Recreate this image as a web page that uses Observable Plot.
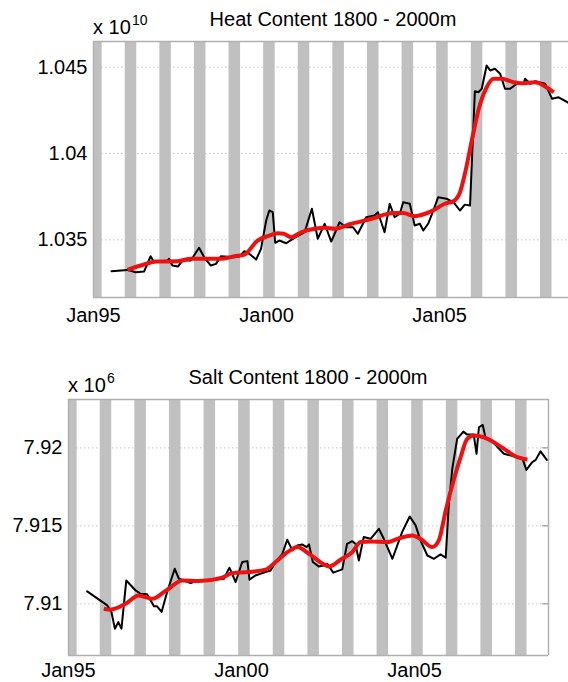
<!DOCTYPE html>
<html><head><meta charset="utf-8">
<script src="https://cdn.jsdelivr.net/npm/d3@7"></script>
<script src="https://cdn.jsdelivr.net/npm/@observablehq/plot@0.6"></script>
<style>
html,body{margin:0;padding:0;background:#fff;overflow:hidden;width:568px;height:682px;}
#wrap{position:relative;width:568px;height:682px;overflow:hidden;background:#fff;}
#wrap svg{position:absolute;left:0;}
</style></head><body><div id="wrap"></div>
<script>
// ---- data ----
const winterYears = [1995,1996,1997,1998,1999,2000,2001,2002,2003,2004,2005,2006,2007,2008];
const xDomain = [1995, 2008.87];
const xTicks = [1995, 2000, 2005];
const xTickLabels = ["Jan95", "Jan00", "Jan05"];

const heatTicks = [1.035, 1.04, 1.045];
const heatTickLabels = ["1.035", "1.04", "1.045"];
const heatDomain = [1.03166, 1.04649];

const saltTicks = [7.91, 7.915, 7.92];
const saltTickLabels = ["7.91", "7.915", "7.92"];
const saltDomain = [7.90669, 7.9231];

// Heat content (x 10^10), raw series
const heatT = [1995.52,1995.98,1996.22,1996.46,1996.65,1996.75,1997.14,1997.18,1997.28,1997.44,1997.57,1997.81,1998.05,1998.20,1998.39,1998.54,1998.68,1999.07,1999.21,1999.36,1999.50,1999.70,1999.84,1999.99,2000.08,2000.18,2000.25,2000.37,2000.57,2000.76,2001.10,2001.31,2001.48,2001.68,2001.87,2002.11,2002.30,2002.50,2002.64,2002.88,2003.12,2003.22,2003.41,2003.56,2003.70,2003.85,2003.95,2004.14,2004.28,2004.43,2004.53,2004.67,2004.82,2004.96,2005.20,2005.40,2005.59,2005.73,2005.88,2006.02,2006.12,2006.22,2006.36,2006.46,2006.60,2006.75,2006.89,2007.04,2007.23,2007.43,2007.47,2007.62,2007.76,2008.05,2008.25,2008.44,2008.78,2008.87];
const heatV = [1.03318,1.03326,1.03312,1.03316,1.03405,1.03370,1.03380,1.03390,1.03351,1.03345,1.03380,1.03380,1.03454,1.03399,1.03351,1.03361,1.03405,1.03399,1.03403,1.03434,1.03419,1.03386,1.03448,1.03612,1.03670,1.03660,1.03483,1.03496,1.03480,1.03506,1.03544,1.03680,1.03506,1.03593,1.03490,1.03602,1.03573,1.03573,1.03535,1.03631,1.03641,1.03660,1.03544,1.03709,1.03631,1.03651,1.03718,1.03709,1.03583,1.03593,1.03554,1.03593,1.03670,1.03747,1.03738,1.03718,1.03670,1.03704,1.03699,1.04361,1.04355,1.04375,1.04510,1.04481,1.04491,1.04462,1.04375,1.04375,1.04404,1.04407,1.04433,1.04404,1.04419,1.04404,1.04317,1.04326,1.04288,1.04280];
// Heat content, smoothed series
const heatSmoothT = [1995.98,1996.46,1996.80,1997.43,1997.81,1998.39,1998.68,1999.07,1999.36,1999.74,2000.03,2000.32,2000.50,2000.71,2001.00,2001.39,2001.68,2001.97,2002.45,2003.03,2003.66,2003.95,2004.28,2004.77,2005.15,2005.40,2005.59,2005.73,2005.93,2006.12,2006.36,2006.56,2006.80,2007.14,2007.38,2007.76,2008.05,2008.30];
const heatSmoothV = [1.03326,1.03357,1.03374,1.03376,1.03390,1.03390,1.03390,1.03405,1.03415,1.03496,1.03521,1.03538,1.03535,1.03515,1.03544,1.03564,1.03570,1.03564,1.03593,1.03622,1.03656,1.03656,1.03637,1.03666,1.03709,1.03724,1.03776,1.03882,1.04075,1.04249,1.04384,1.04433,1.04433,1.04413,1.04407,1.04413,1.04388,1.04355];

// Salt content (x 10^6), raw series
const saltT = [1995.54,1996.12,1996.24,1996.34,1996.44,1996.53,1996.67,1996.94,1997.08,1997.27,1997.47,1997.56,1997.69,1997.85,1998.07,1998.19,1998.33,1998.53,1998.72,1999.06,1999.49,1999.65,1999.83,2000.02,2000.17,2000.23,2000.40,2000.69,2000.84,2000.98,2001.18,2001.32,2001.47,2001.61,2001.75,2001.88,2001.95,2002.06,2002.23,2002.38,2002.48,2002.65,2002.91,2003.05,2003.20,2003.29,2003.39,2003.53,2003.73,2003.97,2004.11,2004.36,2004.64,2004.86,2005.03,2005.17,2005.37,2005.56,2005.75,2005.90,2005.99,2006.09,2006.23,2006.41,2006.52,2006.71,2006.79,2006.86,2006.97,2007.05,2007.20,2007.58,2007.97,2008.11,2008.23,2008.40,2008.50,2008.64,2008.82];
const saltV = [7.9108,7.9099,7.90948,7.90841,7.90883,7.90841,7.9115,7.91086,7.91065,7.91061,7.90984,7.90984,7.90948,7.91076,7.91225,7.91161,7.9115,7.91133,7.9115,7.9115,7.91161,7.91232,7.9114,7.91268,7.91274,7.91155,7.91182,7.91204,7.91214,7.91268,7.91321,7.91411,7.91343,7.91375,7.91381,7.91364,7.91381,7.91268,7.9124,7.91246,7.91257,7.912,7.91221,7.91385,7.91402,7.91385,7.91278,7.91428,7.91417,7.91481,7.91417,7.91289,7.9146,7.9156,7.91503,7.91407,7.9131,7.91289,7.91317,7.91296,7.91641,7.91866,7.92058,7.92104,7.92085,7.92085,7.91962,7.92132,7.92147,7.92064,7.92051,7.91962,7.9194,7.91936,7.91859,7.91908,7.91923,7.91978,7.91923];
// Salt content, smoothed series
const saltSmoothT = [1996.02,1996.21,1996.65,1997.03,1997.42,1997.80,1998.29,1998.77,1999.44,1999.73,2000.21,2000.69,2000.98,2001.37,2001.61,2001.95,2002.38,2002.52,2002.86,2003.20,2003.44,2003.73,2004.21,2004.60,2004.93,2005.17,2005.51,2005.70,2005.90,2006.14,2006.33,2006.52,2006.71,2007.00,2007.29,2007.63,2007.97,2008.26];
const saltSmoothV = [7.90969,7.90963,7.91001,7.91054,7.91033,7.91082,7.9115,7.91146,7.91168,7.91197,7.91204,7.91219,7.91268,7.91338,7.91364,7.91321,7.91253,7.9124,7.91283,7.91332,7.91396,7.914,7.91396,7.91424,7.91439,7.91417,7.91364,7.91407,7.91599,7.91802,7.9194,7.92058,7.92079,7.92068,7.92036,7.91987,7.9194,7.91925];

// ---- drawing ----
const FONT = "'Liberation Sans', Arial, Helvetica, sans-serif";
const FRAME = "#b0b0b0";

function panel(o) {
  const raw = o.t.map((t, i) => ({t, v: o.v[i]}));
  const smooth = o.st.map((t, i) => ({t, v: o.sv[i]}));
  const bars = winterYears.map(y => ({x1: y - 1 / 12, x2: y + 3 / 12}));
  const marks = [
    Plot.ruleY(o.yTicks, {stroke: "#c4c4c4", strokeWidth: 1, strokeDasharray: "1.5,2.5"}),
    Plot.rect(bars, {x1: "x1", x2: "x2", y1: o.yDomain[0], y2: o.yDomain[1], fill: "#c0c0c0", clip: true}),
    Plot.ruleY([o.yDomain[1]], {stroke: FRAME, strokeWidth: 1.5}),
    Plot.ruleY([o.yDomain[0]], {stroke: FRAME, strokeWidth: 1.5}),
    Plot.ruleX([xDomain[0]], {stroke: FRAME, strokeWidth: 1.5})
  ];
  if (o.rightFrame) {
    marks.push(Plot.ruleX([xDomain[1]], {stroke: FRAME, strokeWidth: 1.5}));
    marks.push(Plot.ruleY(o.yTicks, {x1: xDomain[1] - 0.17, x2: xDomain[1], stroke: "#888", strokeWidth: 1}));
  }
  marks.push(Plot.line(raw, {x: "t", y: "v", stroke: "#000", strokeWidth: 2, strokeLinejoin: "round", clip: true}));
  marks.push(Plot.line(smooth, {x: "t", y: "v", stroke: "#ee1111", strokeWidth: 4, curve: "monotone-x", strokeLinecap: "butt"}));

  const svg = Plot.plot({
    width: o.width, height: o.height,
    marginTop: o.mt, marginBottom: o.mb, marginLeft: o.ml, marginRight: o.mr,
    style: {fontFamily: FONT, fontSize: "20px", color: "#000", background: "transparent", maxWidth: "none", overflow: "visible"},
    x: {domain: xDomain, ticks: xTicks, tickFormat: d => xTickLabels[xTicks.indexOf(d)], tickSize: 0, tickPadding: o.xPad, label: null},
    y: {domain: o.yDomain, ticks: o.yTicks, tickFormat: d => o.yTickLabels[o.yTicks.indexOf(d)], tickSize: 0, tickPadding: 6, label: null},
    marks
  });
  svg.style.top = o.top + "px";
  const s = d3.select(svg);
  const cx = (o.ml + o.width - o.mr) / 2;
  s.append("text").attr("x", cx).attr("y", o.mt - 15).attr("text-anchor", "middle")
    .attr("font-family", FONT).attr("font-size", 20).attr("fill", "#000").text(o.title);
  s.append("text").attr("x", o.ml).attr("y", o.mt - 7).attr("text-anchor", "start")
    .attr("font-family", FONT).attr("font-size", 20).attr("fill", "#000").text("x 10");
  s.append("text").attr("x", o.ml + 39).attr("y", o.mt - 16).attr("text-anchor", "start")
    .attr("font-family", FONT).attr("font-size", 14).attr("fill", "#000").text(o.exp);
  document.getElementById("wrap").appendChild(svg);
}

panel({
  t: heatT, v: heatV, st: heatSmoothT, sv: heatSmoothV,
  yDomain: heatDomain, yTicks: heatTicks, yTickLabels: heatTickLabels,
  width: 573, height: 345, mt: 41, mb: 48, ml: 93, mr: 0, top: 0, xPad: 10,
  rightFrame: false, title: "Heat Content 1800 - 2000m", exp: "10"
});
panel({
  t: saltT, v: saltV, st: saltSmoothT, sv: saltSmoothV,
  yDomain: saltDomain, yTicks: saltTicks, yTickLabels: saltTickLabels,
  width: 568, height: 337, mt: 54, mb: 27, ml: 68, mr: 20, top: 345, xPad: 7,
  rightFrame: true, title: "Salt Content 1800 - 2000m", exp: "6"
});
</script></body></html>
